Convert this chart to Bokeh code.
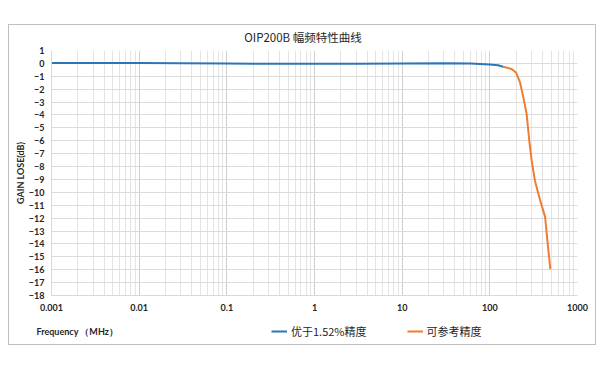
from bokeh.plotting import figure
from bokeh.layouts import column
from bokeh.models import (Range1d, FixedTicker, CustomJSTickFormatter, Legend,
                          LegendItem, Label)
from bokeh.embed import file_html
from bokeh.resources import INLINE

# ---- data ----
freq_blue = [0.001, 0.003, 0.01, 0.03, 0.1, 0.3, 1, 3, 10, 30, 60, 100, 124, 142]
gain_blue = [0.03, 0.03, 0.03, 0.02, 0.0, -0.03, -0.03, -0.02, 0.0, 0.02, 0.0, -0.08, -0.15, -0.26]

freq_orange = [142, 177, 199, 221, 241, 263, 282, 300, 327, 374, 427, 453, 490]
gain_orange = [-0.26, -0.43, -0.7, -1.47, -2.63, -3.93, -6.0, -7.54, -9.1, -10.6, -11.9, -13.7, -15.95]

x_ticks = [0.001, 0.01, 0.1, 1, 10, 100, 1000]
x_tick_labels = ["0.001", "0.01", "0.1", "1", "10", "100", "1000"]
y_ticks = list(range(-18, 2))

title_text = "OIP200B 幅频特性曲线"
y_label = "GAIN LOSE(dB)"
x_label = "Frequency （MHz）"
series_names = ["优于1.52%精度", "可参考精度"]
series_colors = ["#2E75B6", "#ED7D31"]

TEXT = "#262626"
LATIN = "Lato"
CJK = "Noto Sans CJK SC"


def strip(height, y0):
    f = figure(width=586, height=height, x_range=Range1d(0, 586),
               y_range=Range1d(y0, y0 + height),
               output_backend="svg", toolbar_location=None,
               x_axis_location=None, y_axis_location=None, min_border=0)
    f.frame_align = False
    f.grid.visible = False
    f.outline_line_color = None
    return f


# ---- title strip ----
p0 = strip(20, 0)
p0.add_layout(Label(x=293.5, y=9, text=title_text, text_font=CJK,
                    text_font_size="11.5px", text_color=TEXT,
                    text_align="center", text_baseline="middle"))

# ---- main chart ----
p = figure(width=586, height=271, x_axis_type="log",
           x_range=Range1d(0.001, 1000), y_range=Range1d(-18, 1),
           output_backend="svg", toolbar_location=None,
           min_border_left=42, min_border_right=18,
           min_border_top=5, min_border_bottom=21)
p.frame_align = False
p.outline_line_color = None

minor = [m * d for d in x_ticks[:-1] for m in range(2, 10)]
p.xaxis.ticker = FixedTicker(ticks=x_ticks, minor_ticks=minor)
p.xaxis.formatter = CustomJSTickFormatter(
    args=dict(labels=x_tick_labels),
    code="return labels[Math.round(Math.log10(tick)) + 3];")
p.yaxis.ticker = FixedTicker(ticks=y_ticks)

for ax in (p.xaxis[0], p.yaxis[0]):
    ax.axis_line_color = "#d9d9d9"
    ax.major_tick_line_color = None
    ax.minor_tick_line_color = None
    ax.major_tick_out = 0
    ax.minor_tick_out = 0
    ax.major_label_text_font = LATIN
    ax.major_label_text_font_style = "bold"
    ax.major_label_text_font_size = "9px"
    ax.major_label_text_color = TEXT

p.xaxis.major_label_standoff = 8
p.yaxis.major_label_standoff = 7
p.yaxis.axis_label = y_label
p.yaxis.axis_label_text_font = LATIN
p.yaxis.axis_label_text_font_style = "bold"
p.yaxis.axis_label_text_font_size = "9px"
p.yaxis.axis_label_text_color = TEXT
p.yaxis.axis_label_standoff = 0

p.xgrid.grid_line_color = "#d0d0d0"
p.xgrid.minor_grid_line_color = "#e4e4e4"
p.ygrid.grid_line_color = "#dcdcdc"

p.line(freq_blue, gain_blue, line_color=series_colors[0], line_width=2)
p.line(freq_orange, gain_orange, line_color=series_colors[1], line_width=2)

# ---- legend strip (series drawn here only to feed the legend; they lie
#      outside this strip's visible y range) ----
p2 = strip(28, 100)
k1 = p2.line(freq_blue, gain_blue, line_color=series_colors[0], line_width=2)
k2 = p2.line(freq_orange, gain_orange, line_color=series_colors[1], line_width=2)

legend = Legend(items=[LegendItem(label=series_names[0], renderers=[k1]),
                       LegendItem(label=series_names[1], renderers=[k2])],
                orientation="horizontal", location=(262, 5),
                padding=0, margin=0, spacing=40,
                glyph_width=16, glyph_height=12, label_height=12,
                label_standoff=4,
                label_text_font=CJK, label_text_font_size="11px",
                label_text_color=TEXT,
                border_line_color=None, background_fill_alpha=0)
p2.add_layout(legend, "center")
p2.add_layout(Label(x=27, y=113, text=x_label, text_font=LATIN,
                    text_font_style="bold", text_font_size="9px",
                    text_color=TEXT, text_align="left", text_baseline="middle"))

layout = column(p0, p, p2, spacing=0, margin=(24, 0, 0, 8),
                styles={"border": "1px solid #bfbfbf"})

open("out.html", "w").write(file_html(layout, INLINE))
